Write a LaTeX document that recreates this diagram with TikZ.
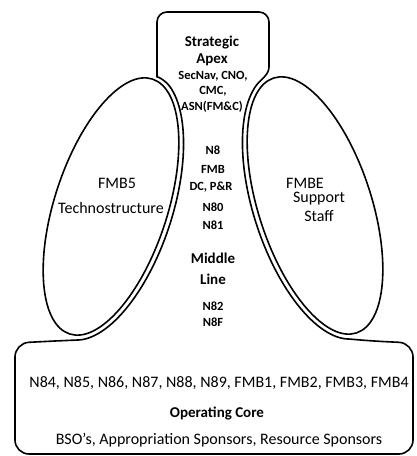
\documentclass[tikz,border=0pt]{standalone}
\usepackage{fontspec}
\setmainfont{Carlito}
\usepackage{tikz}

\begin{document}
\begin{tikzpicture}[x=1pt,y=1pt,
  linha/.style={line width=1.6pt, line join=round},
  pequeno/.style={inner sep=0pt, font=\fontsize{12.5}{14}\selectfont\bfseries},
  titulo/.style={inner sep=0pt, font=\fontsize{15}{17}\selectfont\bfseries},
  texto/.style={inner sep=0pt, font=\fontsize{16}{18}\selectfont}]
  \useasboundingbox (0,0) rectangle (417,456);
  % elipses
  \draw[linha, rotate around={-18:(111,249.5)}] (111,249.5) ellipse (56.5 and 134);
  \draw[linha, rotate around={18:(315,250.5)}] (315,250.5) ellipse (56.5 and 134);
  % contorno
  \draw[linha] (157,389) .. controls (157,380) and (165.3,375.8) .. (169.9,369.3)
    -- plot[domain=72:-82, samples=60] ({111+58.49*cos(\x)+42.95*sin(\x)}, {249.5-19*cos(\x)+132.2*sin(\x)})
    -- (55,115) [rounded corners=14pt] -- (15,113) -- (15,2) -- (413,2) -- (413,113) -- (372,115) [sharp corners]
    -- plot[domain=-82:72, samples=60] ({315-58.49*cos(\x)-42.95*sin(\x)}, {250.5-19*cos(\x)+132.2*sin(\x)})
    .. controls (260.7,376.8) and (269,381) .. (269,389)
    [rounded corners=10pt] -- (269,444) -- (157,444) -- cycle;
  % apice
  \node[titulo] (estrat) at (212,413) {Strategic};
  \node[titulo] (apex) at (212,396) {Apex};
  \node[pequeno] (secnav) at (213,380) {SecNav, CNO,};
  \node[pequeno] (cmc) at (213,365) {CMC,};
  \node[pequeno] (asn) at (212,349) {ASN(FM\&C)};
  % linha media
  \node[pequeno] (neight) at (213,306) {N8};
  \node[pequeno] (fmb) at (213,287) {FMB};
  \node[pequeno] (dcpr) at (211,269) {DC, P\&R};
  \node[pequeno] (nzero) at (213,249) {N80};
  \node[pequeno] (none) at (213,231) {N81};
  \node[titulo] (middle) at (213,198) {Middle};
  \node[titulo] (line) at (213,177) {Line};
  \node[pequeno] (ntwo) at (213,150) {N82};
  \node[pequeno] (nf) at (213,134) {N8F};
  % lados
  \node[texto] (fmbfive) at (117,273) {FMB5};
  \node[texto] (techno) at (111,248) {Technostructure};
  \node[texto] (fmbe) at (305,273) {FMBE};
  \node[texto] (support) at (319,257) {Support};
  \node[texto] (staff) at (319,240) {Staff};
  % nucleo
  \node[texto] (codes) at (219,73) {N84, N85, N86, N87, N88, N89, FMB1, FMB2, FMB3, FMB4};
  \node[titulo] (core) at (217,43) {Operating Core};
  \node[texto] (bso) at (219,16) {BSO's, Appropriation Sponsors, Resource Sponsors};
\end{tikzpicture}
\end{document}
